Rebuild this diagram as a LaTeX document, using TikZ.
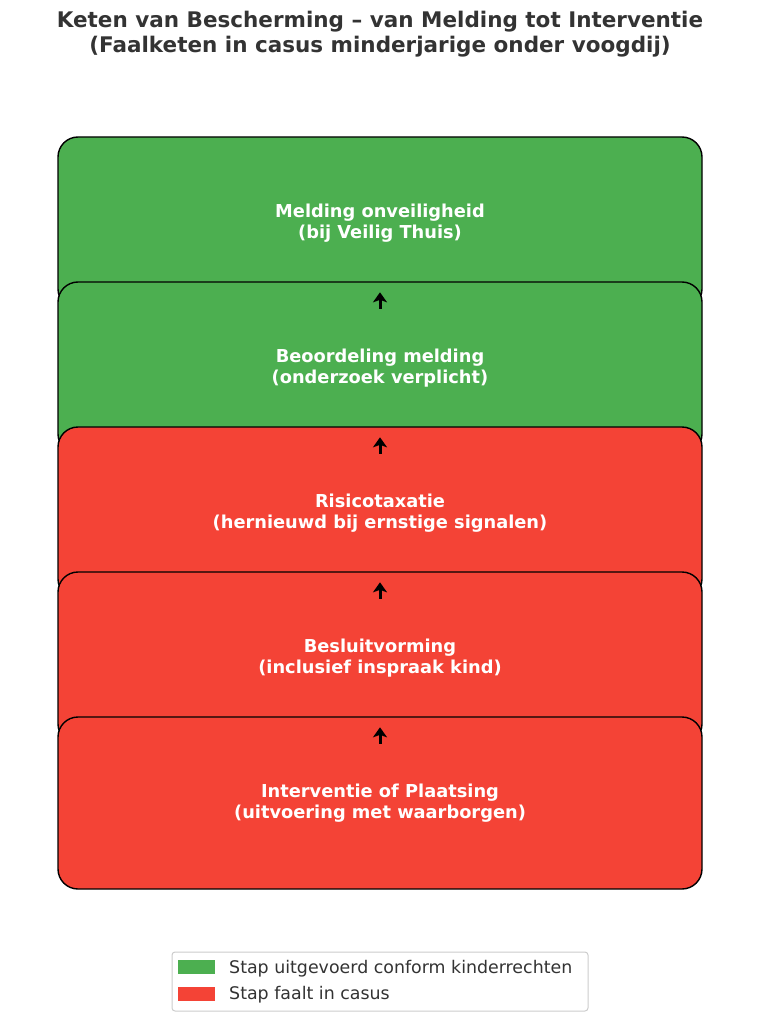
\documentclass[tikz,border=0pt]{standalone}
\usepackage{fontspec}
\setmainfont{DejaVu Sans}
\usetikzlibrary{arrows.meta}
\definecolor{okgreen}{HTML}{4CAF50}
\definecolor{failred}{HTML}{F44336}
\definecolor{titlegray}{HTML}{333333}
\definecolor{legendedge}{HTML}{CCCCCC}
\tikzset{
  stepbox/.style={draw=black, line width=1.4pt, rounded corners=20pt,
    minimum width=644pt, minimum height=172pt, inner sep=0pt,
    text=white, font=\fontsize{17.8}{20.5}\selectfont\bfseries, align=center},
  okbox/.style={stepbox, fill=okgreen},
  failbox/.style={stepbox, fill=failred},
  arr/.style={-{Stealth[length=10pt,width=14pt,inset=2.5pt]}, line width=3pt, black,
    shorten <=1pt, shorten >=11pt},
  legtext/.style={anchor=west, inner sep=0pt, text=titlegray, font=\fontsize{17.4}{20}\selectfont},
  swatch/.style={minimum width=37pt, minimum height=14pt, inner sep=0pt}
}
\begin{document}
\begin{tikzpicture}[x=1pt,y=-1pt]
\useasboundingbox (0,0) rectangle (760,1024);
\node[text=titlegray, font=\fontsize{21.5}{25}\selectfont\bfseries, align=center] (title) at (380,34)
  {Keten van Bescherming – van Melding tot Interventie\\(Faalketen in casus minderjarige onder voogdij)};
\node[okbox] (b1) at (380,223) {Melding onveiligheid\\(bij Veilig Thuis)};
\node[okbox] (b2) at (380,368) {Beoordeling melding\\(onderzoek verplicht)};
\node[failbox] (b3) at (380,513) {Risicotaxatie\\(hernieuwd bij ernstige signalen)};
\node[failbox] (b4) at (380,658) {Besluitvorming\\(inclusief inspraak kind)};
\node[failbox] (b5) at (380,803) {Interventie of Plaatsing\\(uitvoering met waarborgen)};
\draw[arr] (b1.south) -- (b2.north);
\draw[arr] (b2.south) -- (b3.north);
\draw[arr] (b3.south) -- (b4.north);
\draw[arr] (b4.south) -- (b5.north);
% legend
\draw[legendedge, line width=1pt, fill=white, rounded corners=3pt] (172,952) rectangle (588,1011);
\node[swatch, fill=okgreen] (s1) at (196.5,967) {};
\node[swatch, fill=failred] (s2) at (196.5,993.5) {};
\node[legtext] (l1) at (229,968.5) {Stap uitgevoerd conform kinderrechten};
\node[legtext] (l2) at (229,995) {Stap faalt in casus};
\end{tikzpicture}
\end{document}
